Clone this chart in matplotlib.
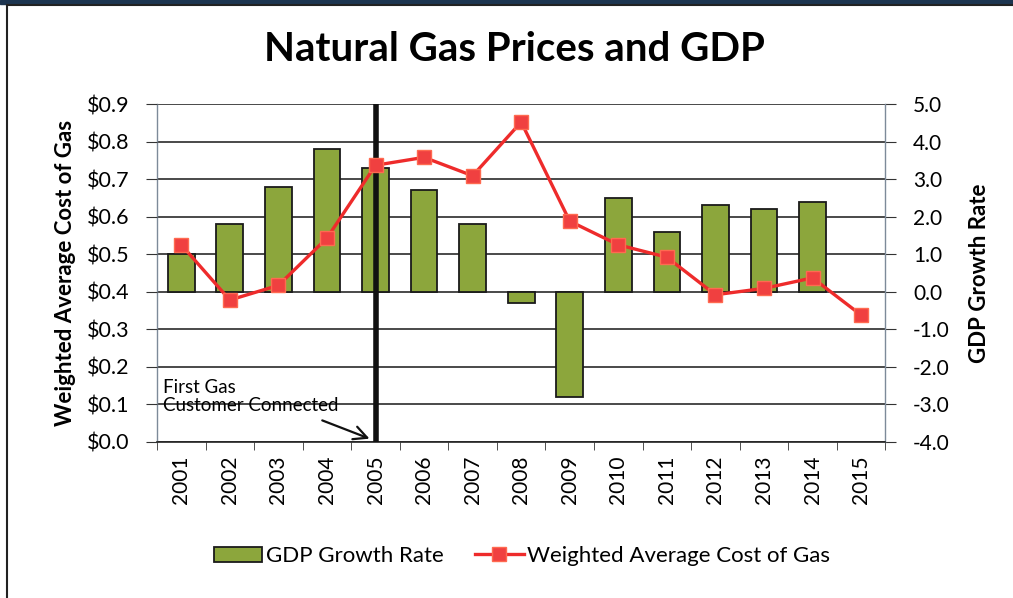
import numpy as np
import matplotlib
matplotlib.use("Agg")
import matplotlib.pyplot as plt
from matplotlib.patches import Rectangle
from matplotlib.lines import Line2D

plt.rcParams['font.family'] = ['Lato', 'DejaVu Sans']

years = [str(y) for y in range(2001, 2016)]
gdp_growth = [1.0, 1.8, 2.8, 3.8, 3.3, 2.7, 1.8, -0.3, -2.8, 2.5, 1.6, 2.3, 2.2, 2.4, np.nan]
gas_cost = [0.525, 0.378, 0.417, 0.543, 0.737, 0.758, 0.709, 0.852,
            0.588, 0.525, 0.492, 0.392, 0.409, 0.437, 0.338]
left_ticks = [0.0, 0.1, 0.2, 0.3, 0.4, 0.5, 0.6, 0.7, 0.8, 0.9]
left_labels = ['$0.0', '$0.1', '$0.2', '$0.3', '$0.4', '$0.5', '$0.6', '$0.7', '$0.8', '$0.9']
right_ticks = [-4, -3, -2, -1, 0, 1, 2, 3, 4, 5]
right_labels = ['-4.0', '-3.0', '-2.0', '-1.0', '0.0', '1.0', '2.0', '3.0', '4.0', '5.0']
first_gas_year = '2005'

fig = plt.figure(figsize=(10.13, 5.98), dpi=100)

# frame of the original slide
fig.patches.append(Rectangle((0, 0.993), 1, 0.007, transform=fig.transFigure,
                             color='#1d3550', zorder=0))
fig.add_artist(Line2D([0.007, 0.007], [0, 0.991], transform=fig.transFigure,
                      color='#222222', lw=1.5))
fig.add_artist(Line2D([0.007, 1.0], [0.991, 0.991], transform=fig.transFigure,
                      color='#222222', lw=1.5))

ax = fig.add_axes([0.155, 0.261, 0.719, 0.565])
ax2 = ax.twinx()
x = np.arange(len(years))

# bars on the GDP scale (right side)
ax.bar(x, gdp_growth, width=0.55, color='#8ca63c', edgecolor='#1a1a1a', linewidth=1.3,
       zorder=2, label='GDP Growth Rate')
ax.set_ylim(-4, 5)
ax.set_xlim(-0.5, len(years) - 0.5)
ax.yaxis.tick_right()
ax.yaxis.set_label_position('right')
ax.set_yticks(right_ticks)
ax.set_yticklabels(right_labels, fontsize=15)
ax.set_ylabel('GDP Growth Rate', fontsize=16, fontweight='bold', labelpad=14)
ax.tick_params(axis='y', direction='out', length=8, color='#333333', pad=12)
ax.grid(axis='y', color='#2a2a2a', lw=1.2, zorder=0)
ax.set_axisbelow(True)

ax.set_xticks(x)
ax.set_xticklabels(years, rotation=90, fontsize=15)
ax.tick_params(axis='x', length=0, pad=10)
ax.set_xticks(np.arange(-0.5, len(years), 1), minor=True)
ax.tick_params(axis='x', which='minor', length=6, color='#333333')

ax.axvline(years.index(first_gas_year), color='#111111', lw=4, zorder=3)

for side in ['left', 'right']:
    ax.spines[side].set_color('#7d8a99')
    ax.spines[side].set_linewidth(1)
ax.spines['top'].set_visible(False)
ax.spines['bottom'].set_color('#222222')
ax.spines['bottom'].set_linewidth(1.2)

# gas cost on the left scale
ax2.yaxis.tick_left()
ax2.yaxis.set_label_position('left')
ax2.plot(x, gas_cost, color='#ee2b2b', lw=2.4, marker='s', markersize=10,
         markerfacecolor='#f04040', markeredgecolor='#ff6a50', markeredgewidth=1,
         zorder=4, label='Weighted Average Cost of Gas')
ax2.set_ylim(0, 0.9)
ax2.set_yticks(left_ticks)
ax2.set_yticklabels(left_labels, fontsize=15.5)
ax2.set_ylabel('Weighted Average Cost of Gas', fontsize=16, fontweight='bold', labelpad=8)
ax2.tick_params(axis='y', direction='out', length=8, color='#333333', pad=12)
for s in ax2.spines.values():
    s.set_visible(False)

ax2.text(-0.38, 0.168, 'First Gas\nCustomer Connected', fontsize=13.5, va='top', ha='left',
         linespacing=1.1, zorder=5)
ax2.annotate('', xy=(3.93, 0.006), xytext=(2.85, 0.06),
             arrowprops=dict(arrowstyle='->', color='#111111', lw=1.6,
                             mutation_scale=24))

fig.suptitle('Natural Gas Prices and GDP', fontsize=29, fontweight='bold',
             x=0.508, y=0.948)

h1, l1 = ax.get_legend_handles_labels()
h2, l2 = ax2.get_legend_handles_labels()
fig.legend(h1 + h2, l1 + l2, loc='center', bbox_to_anchor=(0.515, 0.07), ncol=2,
           frameon=False, fontsize=16, handlelength=2.2, handletextpad=0.15,
           columnspacing=1.4)

fig.savefig('out.png', dpi=100)
